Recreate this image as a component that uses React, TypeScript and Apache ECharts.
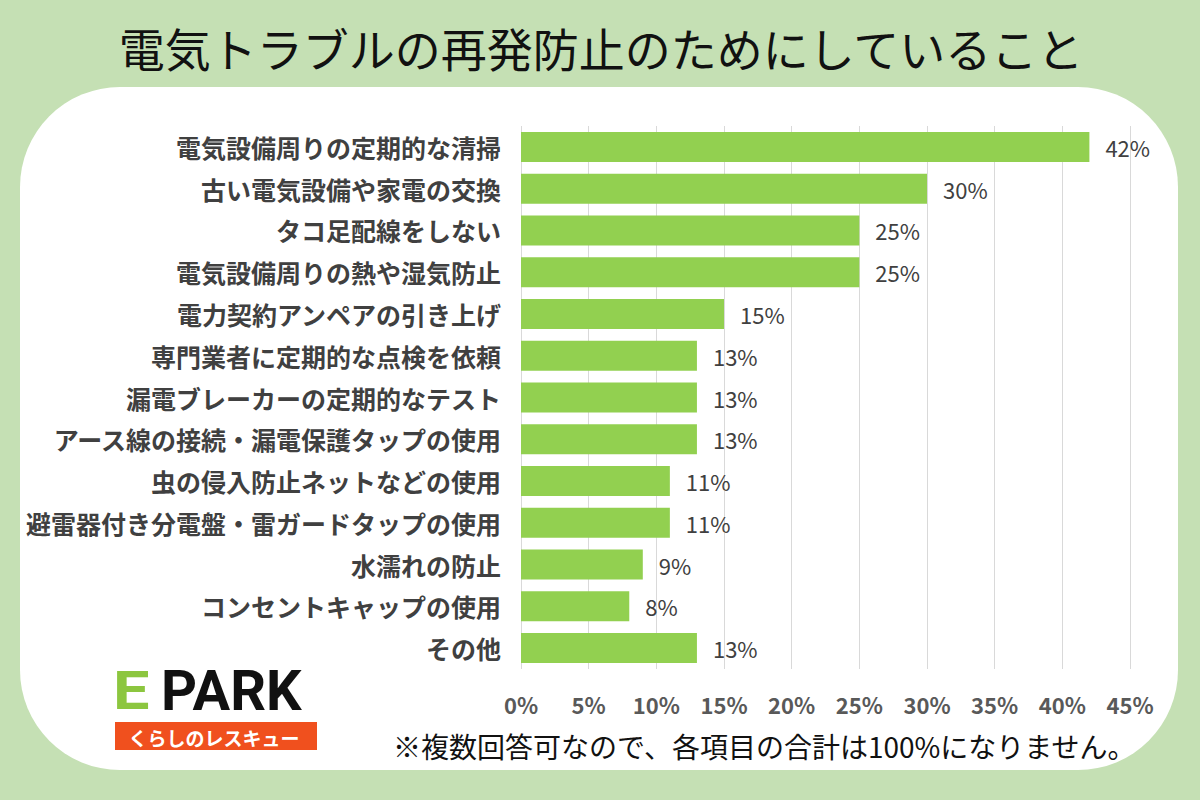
import React, { useEffect, useRef } from "react";
import * as echarts from "echarts";

const categories = [
  "電気設備周りの定期的な清掃",
  "古い電気設備や家電の交換",
  "タコ足配線をしない",
  "電気設備周りの熱や湿気防止",
  "電力契約アンペアの引き上げ",
  "専門業者に定期的な点検を依頼",
  "漏電ブレーカーの定期的なテスト",
  "アース線の接続・漏電保護タップの使用",
  "虫の侵入防止ネットなどの使用",
  "避雷器付き分電盤・雷ガードタップの使用",
  "水濡れの防止",
  "コンセントキャップの使用",
  "その他",
];
const values = [42, 30, 25, 25, 15, 13, 13, 13, 11, 11, 9, 8, 13];
const axisMax = 45;
const axisStep = 5;
const titleText = "電気トラブルの再発防止のためにしていること";
const noteText = "※複数回答可なので、各項目の合計は100%になりません。";
const logoMain = "PARK";
const logoE = "E";
const logoSub = "くらしのレスキュー";

const FONT = '"Noto Sans CJK JP", "Noto Sans", sans-serif';

export default function App() {
  const ref = useRef<HTMLDivElement>(null);
  useEffect(() => {
    if (!ref.current) return;
    const chart = echarts.init(ref.current, undefined, { renderer: "svg" });
    chart.setOption({
      animation: false,
      backgroundColor: "#c5e0b4",
      textStyle: { fontFamily: FONT },
      grid: { left: 521, right: 70, top: 126, bottom: 131, containLabel: false },
      xAxis: {
        type: "value",
        min: 0,
        max: axisMax,
        interval: axisStep,
        axisLine: { show: false },
        axisTick: { show: false },
        splitLine: { show: true, lineStyle: { color: "#d9d9d9", width: 1 } },
        axisLabel: {
          formatter: "{value}%",
          color: "#595959",
          fontWeight: "bold",
          fontSize: 22,
          fontFamily: FONT,
          margin: 24,
        },
      },
      yAxis: {
        type: "category",
        data: categories,
        inverse: true,
        axisLine: { show: false },
        axisTick: { show: false },
        axisLabel: {
          color: "#404040",
          fontWeight: "bold",
          fontSize: 25,
          fontFamily: FONT,
          margin: 20,
        },
      },
      series: [
        {
          type: "bar",
          data: values,
          barWidth: 30,
          itemStyle: { color: "#92d050" },
          label: {
            show: true,
            position: "right",
            distance: 16,
            formatter: "{c}%",
            color: "#404040",
            fontSize: 22,
            fontFamily: FONT,
          },
        },
      ],
      graphic: [
        {
          type: "rect",
          z: -10,
          shape: { x: 20, y: 87, width: 1158, height: 683, r: 100 },
          style: { fill: "#ffffff" },
        },
        {
          type: "text",
          x: 601,
          y: 47,
          style: {
            text: titleText,
            fill: "#111111",
            fontSize: 46,
            fontFamily: FONT,
            fontWeight: "normal",
            textAlign: "center",
            textVerticalAlign: "middle",
          },
        },
        {
          type: "text",
          x: 393,
          y: 746,
          style: {
            text: noteText,
            fill: "#111111",
            fontSize: 28,
            fontFamily: FONT,
            textAlign: "left",
            textVerticalAlign: "middle",
          },
        },
        {
          type: "text",
          x: 113,
          y: 691,
          scaleX: 1.2,
          style: {
            text: logoE,
            fill: "#8cc63f",
            fontSize: 54,
            fontWeight: "bold",
            fontFamily: "Roboto, sans-serif",
            textAlign: "left",
            textVerticalAlign: "middle",
          },
        },
        {
          type: "text",
          x: 161,
          y: 691,
          style: {
            text: logoMain,
            fill: "#111111",
            fontSize: 56,
            fontWeight: "bold",
            fontFamily: "Roboto, sans-serif",
            textAlign: "left",
            textVerticalAlign: "middle",
          },
        },
        {
          type: "rect",
          shape: { x: 115, y: 722, width: 202, height: 28 },
          style: { fill: "#f0501e" },
        },
        {
          type: "text",
          x: 214,
          y: 737,
          style: {
            text: logoSub,
            fill: "#ffffff",
            fontSize: 19,
            fontWeight: "bold",
            fontFamily: FONT,
            textAlign: "center",
            textVerticalAlign: "middle",
          },
        },
      ],
    });
    return () => chart.dispose();
  }, []);
  return (
    <div
      ref={ref}
      style={{ position: "fixed", left: 0, top: 0, width: 1200, height: 800 }}
    />
  );
}
